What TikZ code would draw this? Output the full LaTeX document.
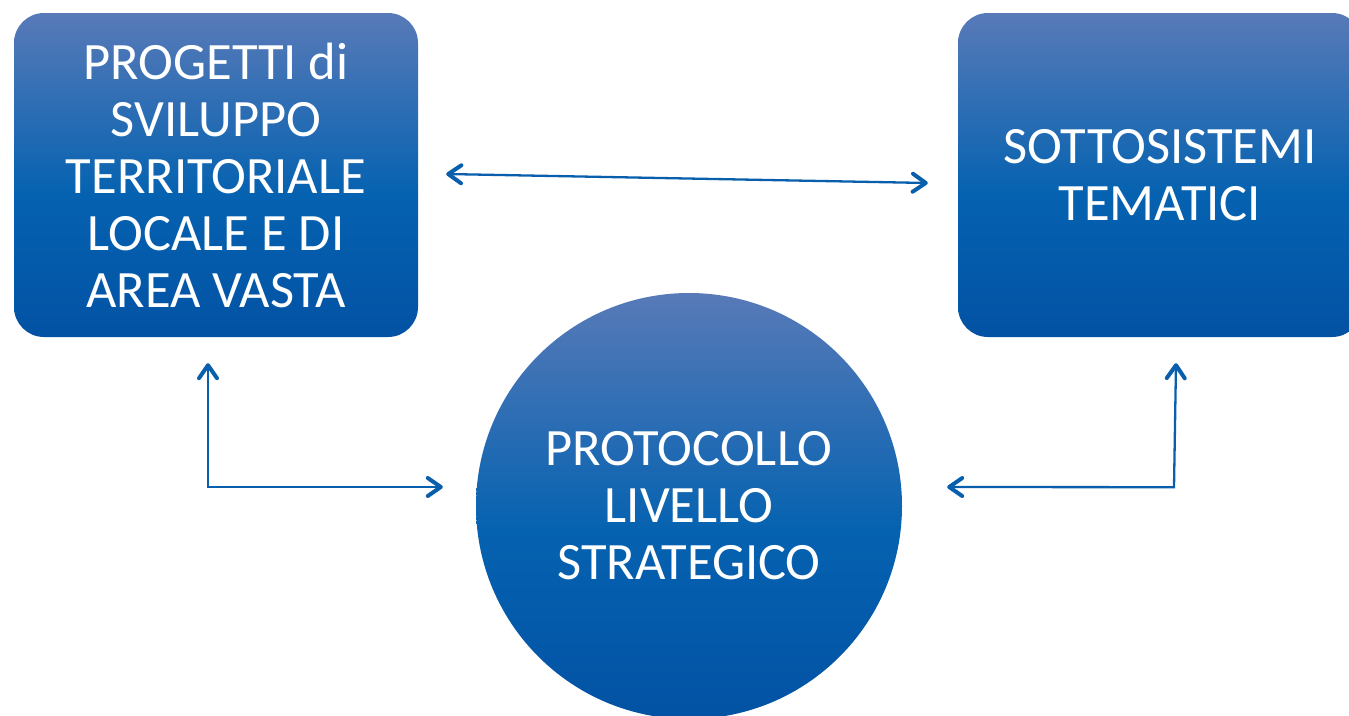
\documentclass[tikz,border=0pt]{standalone}
\usepackage{fontspec}
\setmainfont{Carlito}
\usetikzlibrary{arrows.meta,calc}
\definecolor{ctop}{RGB}{88,122,184}
\definecolor{cmid}{RGB}{5,98,176}
\definecolor{cbot}{RGB}{3,82,164}
\definecolor{arrowc}{RGB}{10,95,172}
\pgfdeclareverticalshading{blueshade}{100bp}{color(0bp)=(cbot); color(25bp)=(cbot); color(47bp)=(cmid); color(75bp)=(ctop); color(100bp)=(ctop)}
\tikzset{
  boxnode/.style={shading=blueshade, rounded corners=30pt, minimum width=404pt, minimum height=324pt, inner sep=0pt, text=white, align=center, font=\fontsize{52.5}{57}\selectfont},
  circnode/.style={shading=blueshade, circle, minimum size=426pt, inner sep=0pt, text=white, align=center, font=\fontsize{52.5}{57}\selectfont},
  link/.style={draw=arrowc, line width=2.3pt, {Straight Barb[length=13pt,width=18pt,line width=4pt,round]}-{Straight Barb[length=13pt,width=18pt,line width=4pt,round]}}
}
\begin{document}
\begin{tikzpicture}[x=1pt,y=-1pt]
\useasboundingbox (0,0) rectangle (1349,715);
\node[boxnode] (L) at (216,175) {PROGETTI di\\SVILUPPO\\TERRITORIALE\\LOCALE E DI\\AREA VASTA};
\node[boxnode] (R) at (1160,175) {SOTTOSISTEMI\\TEMATICI};
\node[circnode] (C) at (689,506) {PROTOCOLLO\\LIVELLO\\STRATEGICO};
\draw[link] ($(L.east)+(28,-1)$) -- ($(R.west)+(-30,8)$);
\draw[link] ($(L.south)+(-8,26)$) |- ($(C.west)+(-33,-19)$);
\draw[link] ($(R.south)+(16,26)$) -- ($(R.south)+(14,150)$) -- ($(C.east)+(45,-19)$);
\end{tikzpicture}
\end{document}
